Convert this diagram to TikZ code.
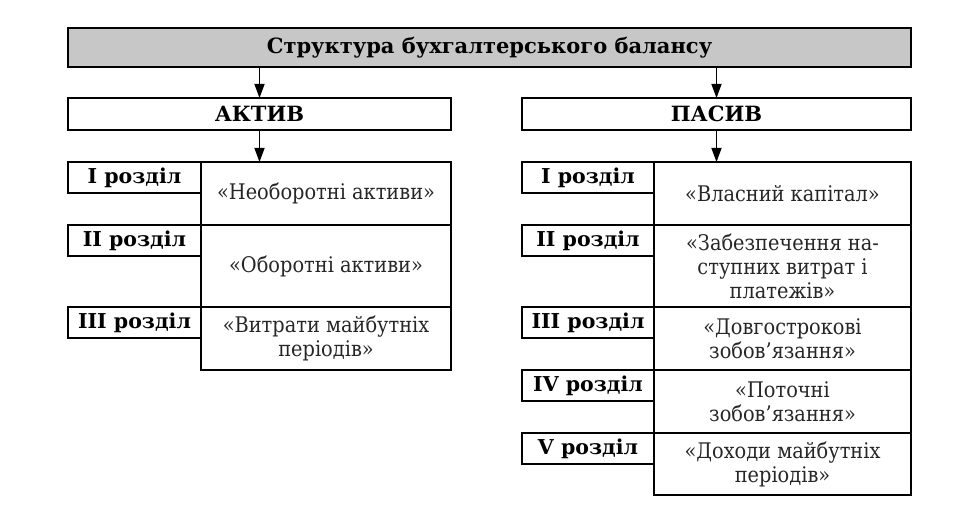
\documentclass[tikz,border=0pt]{standalone}
\usepackage{fontspec}
\setmainfont{DejaVu Serif}
\newfontfamily\condserif{DejaVu Serif Condensed}
\usetikzlibrary{arrows.meta,positioning}

\begin{document}
\begin{tikzpicture}[x=1pt,y=-1pt,
    box/.style={draw, line width=1.6pt, outer sep=0pt, inner sep=0pt},
    head/.style={box, font=\fontsize{21}{24}\selectfont\bfseries},
    lbl/.style={box, minimum height=31pt, anchor=north east, font=\fontsize{20.5}{24}\selectfont\bfseries},
    cont/.style={box, anchor=north west, align=center, font=\condserif\fontsize{21.5}{24}\selectfont, text=black!85},
    arr/.style={-{Triangle[width=10pt,length=14pt]}, line width=1.4pt}]
    \useasboundingbox (0,0) rectangle (962,526);

    % Header
    \node[head, fill=black!22, minimum width=843pt, minimum height=39pt] (title) at (489.5,47.5) {Структура бухгалтерського балансу};
    \node[head, minimum width=383pt, minimum height=32pt] (aktyv) at (259.5,114) {АКТИВ};
    \node[head, minimum width=389pt, minimum height=32pt] (pasyv) at (716.5,114) {ПАСИВ};

    % Aktyv sections
    \node[cont, minimum width=250pt, minimum height=63pt] (a1) at (201,162) {«Необоротні активи»};
    \node[cont, minimum width=250pt, minimum height=82pt] (a2) at (a1.south west) {«Оборотні активи»};
    \node[cont, minimum width=250pt, minimum height=63pt] (a3) at (a2.south west) {«Витрати майбутніх\\періодів»};
    \node[lbl, minimum width=133pt] (al1) at (a1.north west) {I розділ};
    \node[lbl, minimum width=133pt] (al2) at (a2.north west) {II розділ};
    \node[lbl, minimum width=133pt] (al3) at (a3.north west) {III розділ};

    % Pasyv sections
    \node[cont, minimum width=257pt, minimum height=63pt] (p1) at (654,162) {«Власний капітал»};
    \node[cont, minimum width=257pt, minimum height=82pt] (p2) at (p1.south west) {«Забезпечення на-\\ступних витрат і\\платежів»};
    \node[cont, minimum width=257pt, minimum height=63pt] (p3) at (p2.south west) {«Довгострокові\\зобов’язання»};
    \node[cont, minimum width=257pt, minimum height=63pt] (p4) at (p3.south west) {«Поточні\\зобов’язання»};
    \node[cont, minimum width=257pt, minimum height=62pt] (p5) at (p4.south west) {«Доходи майбутніх\\періодів»};
    \node[lbl, minimum width=132pt] (pl1) at (p1.north west) {I розділ};
    \node[lbl, minimum width=132pt] (pl2) at (p2.north west) {II розділ};
    \node[lbl, minimum width=132pt] (pl3) at (p3.north west) {III розділ};
    \node[lbl, minimum width=132pt] (pl4) at (p4.north west) {IV розділ};
    \node[lbl, minimum width=132pt] (pl5) at (p5.north west) {V розділ};

    % Arrows
    \draw[arr] (title.south -| aktyv) -- (aktyv.north);
    \draw[arr] (title.south -| pasyv) -- (pasyv.north);
    \draw[arr] (aktyv.south) -- (aktyv.south |- a1.north);
    \draw[arr] (pasyv.south) -- (pasyv.south |- p1.north);
\end{tikzpicture}
\end{document}
